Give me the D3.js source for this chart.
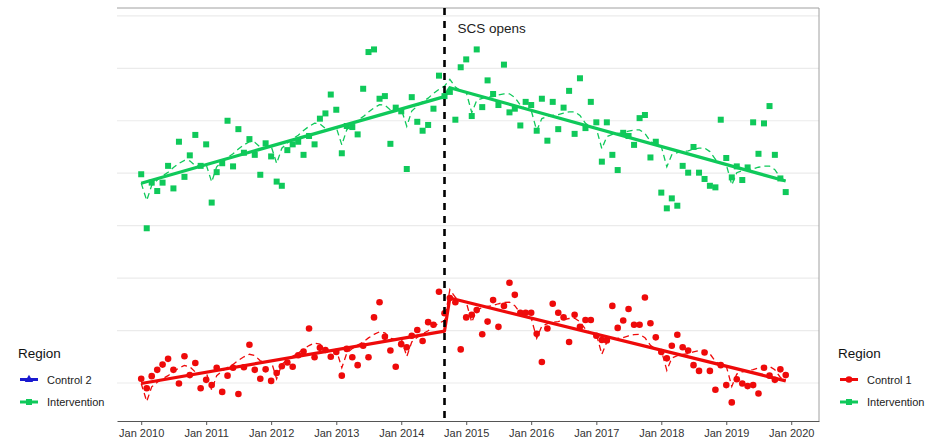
<!DOCTYPE html>
<html lang="en">
<head>
<meta charset="UTF-8">
<title>SCS opens</title>
<script src="https://cdn.jsdelivr.net/npm/d3@7"></script>
<style>
    body { margin: 0; background: #fff; }
    text { font-family: "Liberation Sans", Arial, sans-serif; }
</style>
</head>
<body>
<script>
    // monthly series, Jan 2010 - Dec 2019
    const intervention = [3.98, 2.95, 3.82, 3.66, 3.82, 4.14, 3.71, 4.60, 3.93, 4.34, 4.73, 4.14,
        4.55, 3.44, 4.02, 4.19, 5.00, 4.13, 4.84, 4.39, 4.65, 4.35, 3.97, 4.57,
        4.32, 3.84, 3.76, 4.44, 4.55, 4.60, 4.35, 4.71, 4.55, 5.04, 5.14, 5.50,
        5.21, 4.38, 4.90, 4.88, 4.74, 5.61, 6.31, 6.36, 5.42, 5.47, 4.56, 5.25,
        5.18, 4.08, 5.45, 4.98, 4.81, 4.92, 5.23, 5.86, 5.47, 5.55, 5.02, 6.02,
        6.17, 5.09, 6.36, 5.26, 5.77, 5.51, 5.30, 6.07, 5.16, 5.23, 4.91, 5.36,
        5.30, 4.81, 5.42, 4.62, 5.36, 4.84, 5.25, 5.57, 4.75, 5.81, 4.86, 5.36,
        4.97, 4.22, 4.97, 4.35, 4.06, 4.77, 4.71, 4.54, 5.05, 5.11, 4.30, 4.60,
        3.63, 3.33, 3.52, 3.38, 4.14, 4.01, 4.50, 4.01, 3.89, 3.76, 3.73, 5.02,
        4.29, 3.92, 4.13, 3.87, 4.11, 4.97, 4.37, 4.95, 5.28, 4.35, 3.90, 3.64];

    const control1 = [0.08, -0.10, 0.13, 0.25, 0.35, 0.46, 0.25, -0.01, 0.51, 0.15, 0.38, -0.10,
        0.06, -0.04, 0.29, -0.17, 0.14, 0.29, -0.21, 0.30, 0.73, 0.25, 0.08, 0.26,
        0.04, 0.19, 0.32, 0.39, 0.31, 0.53, 0.60, 1.04, 0.49, 0.67, 0.63, 0.50,
        0.59, 0.14, 0.65, 0.49, 0.34, 0.71, 0.49, 1.25, 1.54, 0.88, 0.62, 0.31,
        0.74, 0.68, 0.90, 1.01, 0.80, 1.16, 1.11, 1.74, 1.33, 1.62, 1.54, 0.64,
        1.25, 1.30, 1.39, 0.93, 1.17, 1.58, 1.07, 1.47, 1.91, 1.68, 1.34, 1.34,
        1.34, 0.94, 0.40, 1.04, 1.51, 1.34, 1.25, 0.78, 1.30, 1.07, 1.20, 1.20,
        0.90, 0.82, 0.81, 1.47, 1.05, 1.19, 1.41, 1.11, 1.11, 1.63, 1.14, 0.87,
        0.59, 0.47, 0.71, 0.92, 0.68, 0.62, 0.34, 0.23, 0.58, 0.23, -0.13, 0.34,
        -0.04, -0.37, 0.07, -0.01, -0.06, -0.04, -0.20, 0.29, 0.14, 0.06, 0.26, 0.15];

    // segmented regression: month index -> fitted level (pre: 0..56, post: 57..119)
    const trendMonths = [0, 56, 57, 119];
    const interventionTrend = [3.81, 5.46, 5.63, 3.85];
    const control1Trend = [-0.01, 0.99, 1.62, 0.04];
    // seasonal offset of the dashed fit, Jan..Dec
    const seasonal = [0, -0.36, -0.10, -0.03, 0.02, 0.06, 0.12, 0.17, 0.20, 0.16, 0.04, 0];

    const tickYears = [2010, 2011, 2012, 2013, 2014, 2015, 2016, 2017, 2018, 2019, 2020];
    const gridValues = [0, 1, 2, 3, 4, 5, 6, 7];
    const openMonth = 56; // Sep 2014

    const width = 938, height = 441;
    const colGreen = '#0fc95a', colRed = '#ee0a0a', colBlue = '#1a1ad0';

    const svg = d3.select('body').append('svg')
        .attr('width', width)
        .attr('height', height);

    const months = d3.timeMonths(new Date(2010, 0, 1), new Date(2020, 0, 1));

    const x = d3.scaleTime()
        .domain([new Date(2009, 7, 18), new Date(2020, 5, 5)])
        .range([117, 819]);
    const y = d3.scaleLinear()
        .domain([-0.725, 7.15])
        .range([421, 8]);

    // grid
    svg.append('g').selectAll('line')
        .data(gridValues)
        .enter().append('line')
        .attr('x1', 117).attr('x2', 819)
        .attr('y1', d => y(d)).attr('y2', d => y(d))
        .attr('stroke', '#ebebeb')
        .attr('stroke-width', 1.2);

    // panel border (top + right)
    svg.append('path')
        .attr('d', 'M117,8H819V421')
        .attr('fill', 'none')
        .attr('stroke', '#a0a0a0')
        .attr('stroke-width', 1);

    // x axis
    const xAxis = d3.axisBottom(x)
        .tickValues(tickYears.map(yr => new Date(yr, 0, 1)))
        .tickFormat(d3.timeFormat('Jan %Y'))
        .tickSizeInner(4)
        .tickSizeOuter(0)
        .tickPadding(4);
    const gx = svg.append('g')
        .attr('transform', 'translate(0,421)')
        .call(xAxis);
    gx.select('.domain').attr('stroke', '#555').attr('stroke-width', 1.2);
    gx.selectAll('.tick line').attr('stroke', '#555');
    gx.selectAll('.tick text')
        .attr('fill', '#333')
        .style('font-size', '11px')
        .style('font-family', '"Liberation Sans", Arial, sans-serif');

    function trendAt(levels, m) {
        const seg = m <= trendMonths[1] ? 0 : 2;
        const m0 = trendMonths[seg], m1 = trendMonths[seg + 1];
        const t = (m - m0) / (m1 - m0);
        return levels[seg] + t * (levels[seg + 1] - levels[seg]);
    }

    function drawSeries(values, levels, color, shape) {
        const g = svg.append('g');
        const line = d3.line()
            .x(d => x(d[0]))
            .y(d => y(d[1]));

        // seasonal fit (dashed)
        const fit = months.map((d, i) => [d, trendAt(levels, i) + seasonal[i % 12]]);
        g.append('path')
            .attr('d', line(fit))
            .attr('fill', 'none')
            .attr('stroke', color)
            .attr('stroke-width', 1.3)
            .attr('stroke-dasharray', '6,4');

        // observed points
        if (shape === 'square') {
            g.selectAll('rect')
                .data(values)
                .enter().append('rect')
                .attr('x', (d, i) => x(months[i]) - 3)
                .attr('y', d => y(d) - 3)
                .attr('width', 6)
                .attr('height', 6)
                .attr('fill', color);
        } else {
            g.selectAll('circle')
                .data(values)
                .enter().append('circle')
                .attr('cx', (d, i) => x(months[i]))
                .attr('cy', d => y(d))
                .attr('r', 3.3)
                .attr('fill', color);
        }

        // segmented trend (solid)
        const trend = trendMonths.map((m, i) => [months[m], levels[i]]);
        g.append('path')
            .attr('d', line(trend))
            .attr('fill', 'none')
            .attr('stroke', color)
            .attr('stroke-width', 3.2)
            .attr('stroke-linejoin', 'round');
    }

    drawSeries(intervention, interventionTrend, colGreen, 'square');
    drawSeries(control1, control1Trend, colRed, 'circle');

    // intervention marker
    svg.append('line')
        .attr('x1', x(months[openMonth])).attr('x2', x(months[openMonth]))
        .attr('y1', 8).attr('y2', 421)
        .attr('stroke', '#000')
        .attr('stroke-width', 2.6)
        .attr('stroke-dasharray', '7,6');
    svg.append('text')
        .attr('x', x(months[openMonth]) + 13)
        .attr('y', 33)
        .style('font-size', '13.5px')
        .attr('fill', '#222')
        .text('SCS opens');

    // legends
    function legend(x0, items) {
        const g = svg.append('g').attr('transform', 'translate(' + x0 + ',0)');
        g.append('text')
            .attr('x', 0).attr('y', 358)
            .style('font-size', '13.5px')
            .attr('fill', '#111')
            .text('Region');
        items.forEach((it, i) => {
            const cy = 379.5 + i * 22.5;
            g.append('line')
                .attr('x1', 2).attr('x2', 20)
                .attr('y1', cy).attr('y2', cy)
                .attr('stroke', it.color)
                .attr('stroke-width', 3);
            if (it.shape === 'square') {
                g.append('rect').attr('x', 8).attr('y', cy - 3)
                    .attr('width', 6).attr('height', 6).attr('fill', it.color);
            } else if (it.shape === 'circle') {
                g.append('circle').attr('cx', 11).attr('cy', cy).attr('r', 3.3).attr('fill', it.color);
            } else {
                g.append('path')
                    .attr('d', d3.symbol(d3.symbolTriangle, 30)())
                    .attr('transform', 'translate(11,' + cy + ')')
                    .attr('fill', it.color);
            }
            g.append('text')
                .attr('x', 29).attr('y', cy + 4)
                .style('font-size', '11px')
                .attr('fill', '#222')
                .text(it.label);
        });
    }

    legend(18, [
        {label: 'Control 2', color: colBlue, shape: 'triangle'},
        {label: 'Intervention', color: colGreen, shape: 'square'}
    ]);
    legend(838, [
        {label: 'Control 1', color: colRed, shape: 'circle'},
        {label: 'Intervention', color: colGreen, shape: 'square'}
    ]);
</script>
</body>
</html>
